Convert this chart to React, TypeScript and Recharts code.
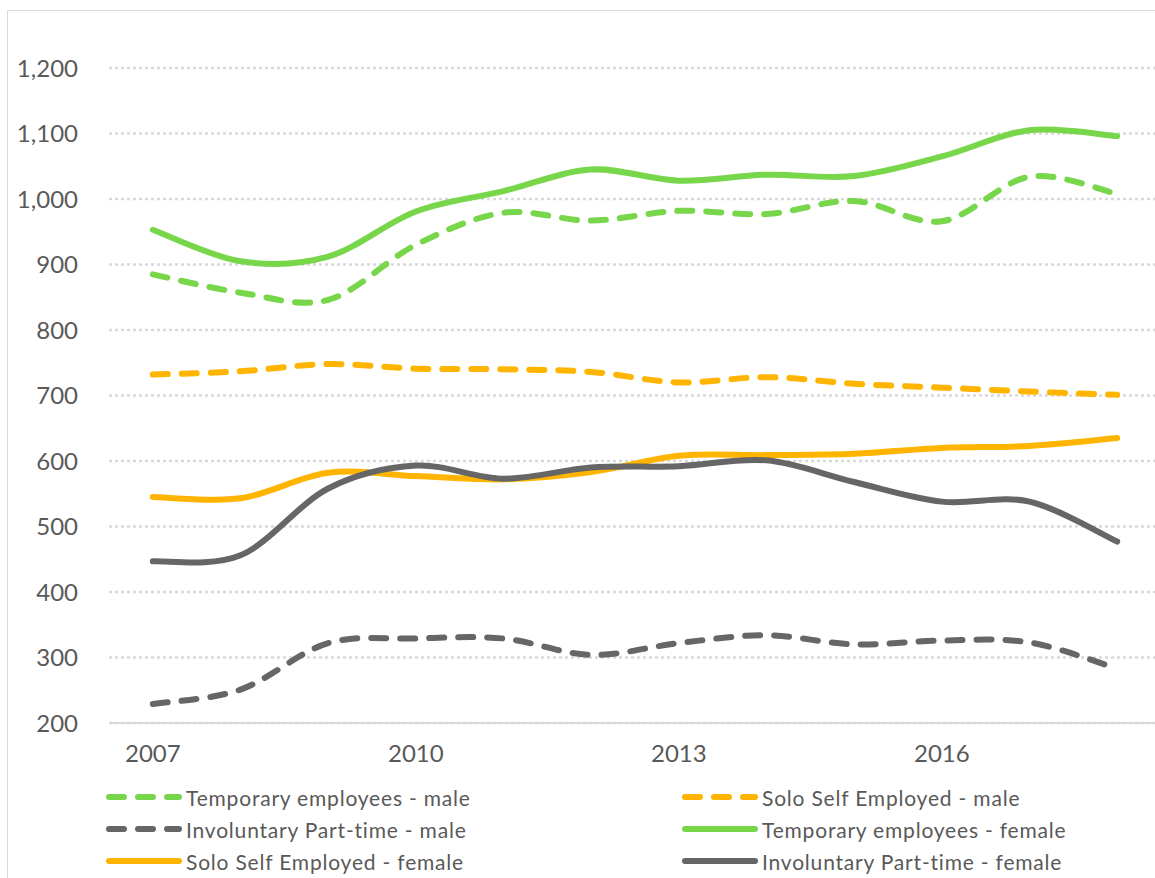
import React from 'react';
import { CartesianGrid, Legend, Line, LineChart, XAxis, YAxis } from 'recharts';

// years on the x axis
const years = [2007, 2008, 2009, 2010, 2011, 2012, 2013, 2014, 2015, 2016, 2017, 2018];
const xTicks = [2007, 2010, 2013, 2016];
const yTicks = [200, 300, 400, 500, 600, 700, 800, 900, 1000, 1100, 1200];

// series values (thousands)
const tempMale = [885, 857, 846, 930, 979, 967, 982, 977, 997, 966, 1034, 1008];
const soloMale = [732, 737, 748, 741, 740, 736, 720, 728, 718, 712, 706, 701];
const involMale = [229, 251, 322, 329, 329, 304, 322, 334, 320, 326, 323, 283];
const tempFemale = [953, 905, 912, 981, 1012, 1045, 1028, 1037, 1035, 1065, 1105, 1096];
const soloFemale = [545, 543, 582, 577, 572, 583, 608, 609, 611, 620, 623, 635];
const involFemale = [447, 456, 558, 593, 573, 590, 592, 601, 568, 538, 538, 477];

const GREEN = '#78D64B';
const ORANGE = '#FFB400';
const GREY = '#666666';
const FONT = "Lato, 'Open Sans', sans-serif";

const seriesList = [
  { key: 'tempMale', name: 'Temporary employees - male', color: GREEN, dashed: true },
  { key: 'soloMale', name: 'Solo Self Employed - male', color: ORANGE, dashed: true },
  { key: 'involMale', name: 'Involuntary Part-time - male', color: GREY, dashed: true },
  { key: 'tempFemale', name: 'Temporary employees - female', color: GREEN, dashed: false },
  { key: 'soloFemale', name: 'Solo Self Employed - female', color: ORANGE, dashed: false },
  { key: 'involFemale', name: 'Involuntary Part-time - female', color: GREY, dashed: false },
];

const chartData = years.map((year, i) => ({
  year,
  tempMale: tempMale[i],
  soloMale: soloMale[i],
  involMale: involMale[i],
  tempFemale: tempFemale[i],
  soloFemale: soloFemale[i],
  involFemale: involFemale[i],
}));

const DASH = '15 14';

// Catmull-Rom style smoothing, closer to Excel's "smoothed line" than monotone
function excelSmooth(context: any) {
  let pts: [number, number][] = [];
  return {
    areaStart() {},
    areaEnd() {},
    lineStart() {
      pts = [];
    },
    lineEnd() {
      const n = pts.length;
      if (!n) return;
      context.moveTo(pts[0][0], pts[0][1]);
      for (let i = 0; i < n - 1; i++) {
        const p0 = pts[Math.max(i - 1, 0)];
        const p1 = pts[i];
        const p2 = pts[i + 1];
        const p3 = pts[Math.min(i + 2, n - 1)];
        context.bezierCurveTo(
          p1[0] + (p2[0] - p0[0]) / 6,
          p1[1] + (p2[1] - p0[1]) / 6,
          p2[0] - (p3[0] - p1[0]) / 6,
          p2[1] - (p3[1] - p1[1]) / 6,
          p2[0],
          p2[1]
        );
      }
    },
    point(x: number, y: number) {
      pts.push([+x, +y]);
    },
  };
}

// two-column legend, filled row by row like the Excel one
const renderLegend = () => (
  <div
    style={{
      position: 'relative',
      width: 1155,
      height: 96,
      fontFamily: FONT,
      fontSize: 21,
      letterSpacing: 0.8,
      color: '#595959',
    }}
  >
    {seriesList.map((s, i) => {
      const col = i % 2;
      const row = Math.floor(i / 2);
      return (
        <div
          key={s.key}
          style={{
            position: 'absolute',
            left: 106 + col * 576,
            top: row * 32,
            height: 32,
            display: 'flex',
            alignItems: 'center',
            whiteSpace: 'nowrap',
          }}
        >
          <svg width={80} height={12}>
            <line
              x1={3}
              y1={6}
              x2={73}
              y2={6}
              stroke={s.color}
              strokeWidth={6}
              strokeLinecap="round"
              strokeDasharray={s.dashed ? DASH : undefined}
            />
          </svg>
          <span>{s.name}</span>
        </div>
      );
    })}
  </div>
);

export default function App() {
  return (
    <div
      style={{
        position: 'absolute',
        left: 0,
        top: 0,
        width: 1155,
        height: 878,
        overflow: 'hidden',
        background: '#fff',
      }}
    >
      {/* chart frame */}
      <div
        style={{
          position: 'absolute',
          left: 7,
          top: 10,
          width: 1300,
          height: 1000,
          border: '1.5px solid #d9d9d9',
        }}
      />
      <div style={{ position: 'absolute', left: 0, top: 0 }}>
        <LineChart
          width={1161}
          height={878}
          data={chartData}
          margin={{ top: 68, right: 0, left: 0, bottom: 9 }}
        >
          <CartesianGrid
            horizontal
            vertical={false}
            stroke="#d9d9d9"
            strokeWidth={2.5}
            strokeDasharray="3 3"
          />
          <XAxis
            dataKey="year"
            type="number"
            domain={[2006.5, 2018.5]}
            ticks={xTicks}
            allowDataOverflow
            height={50}
            tickLine={false}
            tickSize={0}
            tickMargin={22}
            axisLine={{ stroke: '#d9d9d9', strokeWidth: 2 }}
            tick={{ fontSize: 24, fill: '#595959', fontFamily: FONT }}
          />
          <YAxis
            domain={[200, 1200]}
            ticks={yTicks}
            width={109}
            axisLine={false}
            tickLine={false}
            tickSize={0}
            tickMargin={31}
            tickFormatter={(v: number) => v.toLocaleString('en-US')}
            tick={{ fontSize: 24, fill: '#595959', fontFamily: FONT }}
          />
          <Legend
            verticalAlign="bottom"
            content={renderLegend}
            wrapperStyle={{ left: 0, top: 781, width: 1155, height: 96 }}
          />
          {seriesList.map((s) => (
            <Line
              key={s.key}
              dataKey={s.key}
              name={s.name}
              type={excelSmooth as any}
              stroke={s.color}
              strokeWidth={6}
              strokeLinecap="round"
              strokeDasharray={s.dashed ? DASH : undefined}
              dot={false}
              activeDot={false}
              isAnimationActive={false}
            />
          ))}
        </LineChart>
      </div>
    </div>
  );
}
